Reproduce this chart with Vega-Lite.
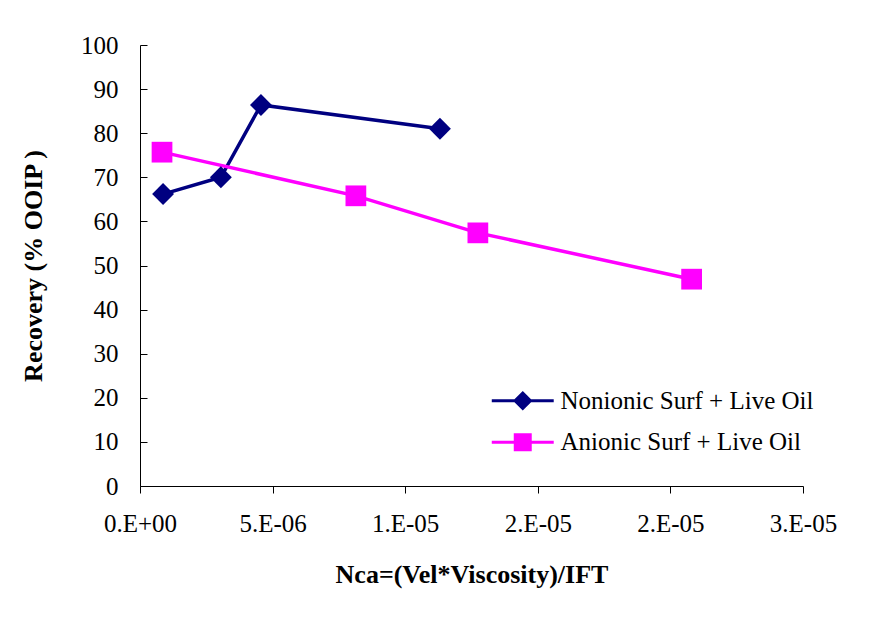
{
  "$schema": "https://vega.github.io/schema/vega-lite/v6.json",
  "width": 663,
  "height": 441,
  "autosize": {"type": "none"},
  "padding": {"left": 140, "top": 45, "right": 77, "bottom": 131},
  "background": "white",
  "config": {
    "view": {"stroke": null},
    "font": "Liberation Serif",
    "axis": {
      "grid": false,
      "domainColor": "black",
      "domainWidth": 1,
      "tickColor": "black",
      "tickWidth": 1,
      "labelFont": "Liberation Serif",
      "labelFontSize": 25,
      "labelColor": "black",
      "titleFont": "Liberation Serif",
      "titleFontSize": 26,
      "titleFontWeight": "bold",
      "titleColor": "black"
    },
    "legend": {
      "labelFont": "Liberation Serif"
    }
  },
  "data": {
    "values": [
      {"series": "Nonionic Surf + Live Oil", "nca": 8.7e-7, "recovery": 66.2},
      {"series": "Nonionic Surf + Live Oil", "nca": 3.05e-6, "recovery": 70.0},
      {"series": "Nonionic Surf + Live Oil", "nca": 4.56e-6, "recovery": 86.4},
      {"series": "Nonionic Surf + Live Oil", "nca": 1.131e-5, "recovery": 81.0},
      {"series": "Anionic Surf + Live Oil", "nca": 8.3e-7, "recovery": 75.7},
      {"series": "Anionic Surf + Live Oil", "nca": 8.14e-6, "recovery": 65.8},
      {"series": "Anionic Surf + Live Oil", "nca": 1.274e-5, "recovery": 57.4},
      {"series": "Anionic Surf + Live Oil", "nca": 2.08e-5, "recovery": 46.9}
    ]
  },
  "encoding": {
    "x": {
      "field": "nca",
      "type": "quantitative",
      "scale": {"domain": [0, 2.5e-5], "nice": false, "zero": false},
      "axis": {
        "title": "Nca=(Vel*Viscosity)/IFT",
        "values": [0, 5e-6, 1e-5, 1.5e-5, 2e-5, 2.5e-5],
        "labelExpr": "['0.E+00','5.E-06','1.E-05','2.E-05','2.E-05','3.E-05'][round(datum.value/5e-6)]",
        "tickSize": 7,
        "labelPadding": 18,
        "titlePadding": 25,
        "labelFlush": false,
        "labelOverlap": false
      }
    },
    "y": {
      "field": "recovery",
      "type": "quantitative",
      "scale": {"domain": [0, 100], "nice": false},
      "axis": {
        "title": "Recovery (% OOIP )",
        "values": [0, 10, 20, 30, 40, 50, 60, 70, 80, 90, 100],
        "tickSize": -7,
        "labelPadding": 29,
        "titlePadding": 34,
        "labelFlush": false,
        "labelOverlap": false
      }
    },
    "color": {
      "field": "series",
      "type": "nominal",
      "scale": {
        "domain": ["Nonionic Surf + Live Oil", "Anionic Surf + Live Oil"],
        "range": ["#000080", "#FF00FF"]
      },
      "legend": {
        "orient": "none",
        "legendX": 360.75,
        "legendY": 333.75,
        "title": null,
        "padding": 0,
        "symbolSize": 1640,
        "symbolStrokeWidth": 3,
        "labelFont": "Liberation Serif",
        "labelFontSize": 25,
        "labelColor": "black",
        "labelLimit": 500,
        "labelOffset": 15.75,
        "rowPadding": 5.5,
        "encode": {
          "symbols": {
            "update": {
              "shape": {"signal": "datum.value === 'Nonionic Surf + Live Oil' ? 'M-1.53,0H1.53M0,-0.38L0.38,0L0,0.38L-0.38,0Z' : 'M-1.53,0H1.53M-0.37,-0.37H0.37V0.37H-0.37Z'"},
              "fill": {"signal": "datum.value === 'Nonionic Surf + Live Oil' ? '#000080' : '#FF00FF'"},
              "stroke": {"signal": "datum.value === 'Nonionic Surf + Live Oil' ? '#000080' : '#FF00FF'"},
              "strokeWidth": {"value": 3},
              "opacity": {"value": 1}
            }
          }
        }
      }
    }
  },
  "layer": [
    {
      "mark": {"type": "line", "strokeWidth": 3.5},
      "encoding": {"order": {"field": "nca", "type": "quantitative"}}
    },
    {
      "transform": [{"filter": "datum.series === 'Nonionic Surf + Live Oil'"}],
      "mark": {"type": "point", "shape": "diamond", "filled": true, "size": 480, "opacity": 1}
    },
    {
      "transform": [{"filter": "datum.series === 'Anionic Surf + Live Oil'"}],
      "mark": {"type": "point", "shape": "square", "filled": true, "size": 430, "opacity": 1}
    }
  ]
}
